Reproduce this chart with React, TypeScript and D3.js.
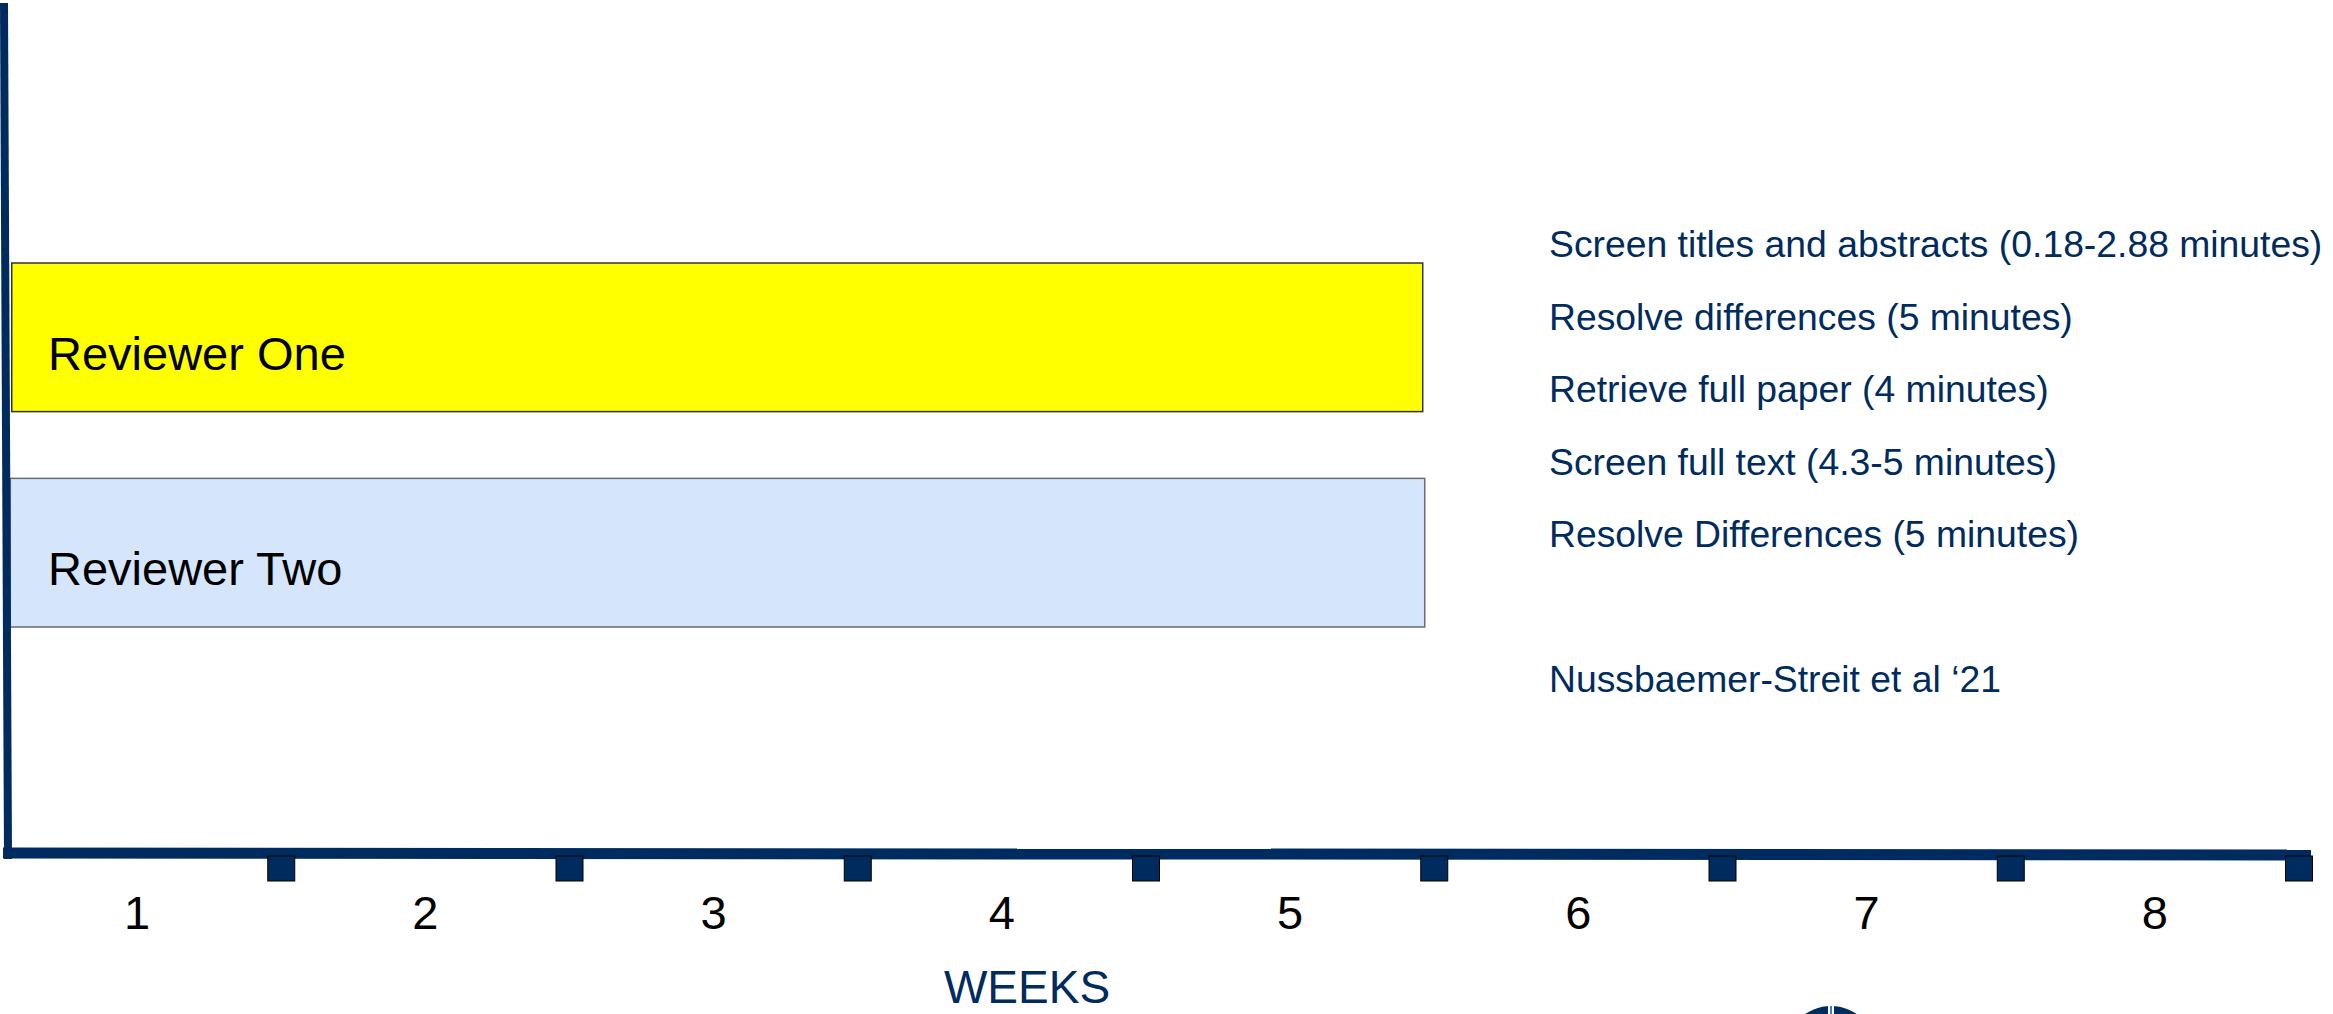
import React, { useEffect, useRef } from 'react';
import * as d3 from 'd3';

// week numbers along the bottom axis
const weeks = ['1', '2', '3', '4', '5', '6', '7', '8'];

// reviewer bars, in weeks
const reviewers = ['Reviewer One', 'Reviewer Two'];
const reviewerStart = [0.065, 0.06];
const reviewerEnd = [4.96, 4.967];

// task list shown at the right
const tasks = [
  'Screen titles and abstracts (0.18-2.88 minutes)',
  'Resolve differences (5 minutes)',
  'Retrieve full paper (4 minutes)',
  'Screen full text (4.3-5 minutes)',
  'Resolve Differences (5 minutes)',
];
const citation = 'Nussbaemer-Streit et al \u201821';

const W = 2333;
const H = 1014;
const NAVY = '#002b5e';
const FONT = '"Liberation Sans", Arial, sans-serif';

export default function App() {
  const svgRef = useRef<SVGSVGElement>(null);

  useEffect(() => {
    if (!svgRef.current) return;
    const svg = d3.select(svgRef.current);
    svg.selectAll('*').remove();

    const axisY = 854;

    const xScale = d3.scaleLinear().domain([0, weeks.length]).range([-7, 2299]);
    const yScale = d3
      .scaleBand<string>()
      .domain(reviewers)
      .range([263, 627])
      .paddingInner(0.31);

    const barColors = d3.scaleOrdinal<string, string>().domain(reviewers).range(['#ffff00', '#d5e6fc']);
    const barStroke = d3.scaleOrdinal<string, string>().domain(reviewers).range(['#333333', '#6b6b6b']);

    // bars
    const bars = svg
      .append('g')
      .selectAll('g.bar')
      .data(reviewers)
      .enter()
      .append('g')
      .attr('class', 'bar');

    bars
      .append('rect')
      .attr('x', (_, i) => xScale(reviewerStart[i]))
      .attr('y', (d) => yScale(d)!)
      .attr('width', (_, i) => xScale(reviewerEnd[i]) - xScale(reviewerStart[i]))
      .attr('height', yScale.bandwidth())
      .attr('fill', (d) => barColors(d))
      .attr('stroke', (d) => barStroke(d))
      .attr('stroke-width', 1.5);

    bars
      .append('text')
      .attr('x', 48)
      .attr('y', (d) => yScale(d)! + yScale.bandwidth() * 0.72)
      .style('font-family', FONT)
      .style('font-size', '47px')
      .style('fill', '#000')
      .text((d) => d);

    // vertical axis
    svg
      .append('line')
      .attr('x1', 4)
      .attr('y1', 3)
      .attr('x2', 8)
      .attr('y2', axisY + 5)
      .attr('stroke', NAVY)
      .attr('stroke-width', 8);

    // horizontal axis
    svg
      .append('line')
      .attr('x1', 3)
      .attr('y1', axisY - 1)
      .attr('x2', 2311)
      .attr('y2', axisY + 1)
      .attr('stroke', NAVY)
      .attr('stroke-width', 11);

    // square tick markers on week boundaries
    svg
      .append('g')
      .selectAll('rect')
      .data(weeks)
      .enter()
      .append('rect')
      .attr('x', (_, i) => xScale(i + 1) - 13.5)
      .attr('y', axisY + 2)
      .attr('width', 27)
      .attr('height', 25)
      .attr('fill', NAVY)
      .attr('stroke', '#000')
      .attr('stroke-width', 1);

    // week labels
    svg
      .append('g')
      .selectAll('text')
      .data(weeks)
      .enter()
      .append('text')
      .attr('x', (_, i) => xScale(i + 0.5))
      .attr('y', 929)
      .attr('text-anchor', 'middle')
      .style('font-family', FONT)
      .style('font-size', '47px')
      .style('fill', '#000')
      .text((d) => d);

    svg
      .append('text')
      .attr('x', 1027)
      .attr('y', 1003)
      .attr('text-anchor', 'middle')
      .style('font-family', FONT)
      .style('font-size', '46px')
      .style('fill', NAVY)
      .text('WEEKS');

    // task notes
    const notes = svg.append('g').attr('transform', 'translate(1549, 0)');
    notes
      .selectAll('text')
      .data(tasks)
      .enter()
      .append('text')
      .attr('x', 0)
      .attr('y', (_, i) => 257 + i * 72.5)
      .style('font-family', FONT)
      .style('font-size', '37.3px')
      .style('fill', NAVY)
      .text((d) => d);

    notes
      .append('text')
      .attr('x', 0)
      .attr('y', 692)
      .style('font-family', FONT)
      .style('font-size', '37.3px')
      .style('fill', NAVY)
      .text(citation);

    // partial logo peeking in at the bottom edge
    const logo = svg.append('g').attr('transform', 'translate(1831, 1051)');
    logo.append('circle').attr('r', 45).attr('fill', NAVY);
    logo.append('rect').attr('x', -3).attr('y', -45).attr('width', 6).attr('height', 90).attr('fill', '#fff');
    logo.append('rect').attr('x', -1).attr('y', -45).attr('width', 2).attr('height', 90).attr('fill', '#3d7fd8');
  }, []);

  return (
    <div style={{ position: 'absolute', left: 0, top: 0, width: W, height: H, background: '#fff' }}>
      <svg ref={svgRef} width={W} height={H} style={{ display: 'block' }} />
    </div>
  );
}
